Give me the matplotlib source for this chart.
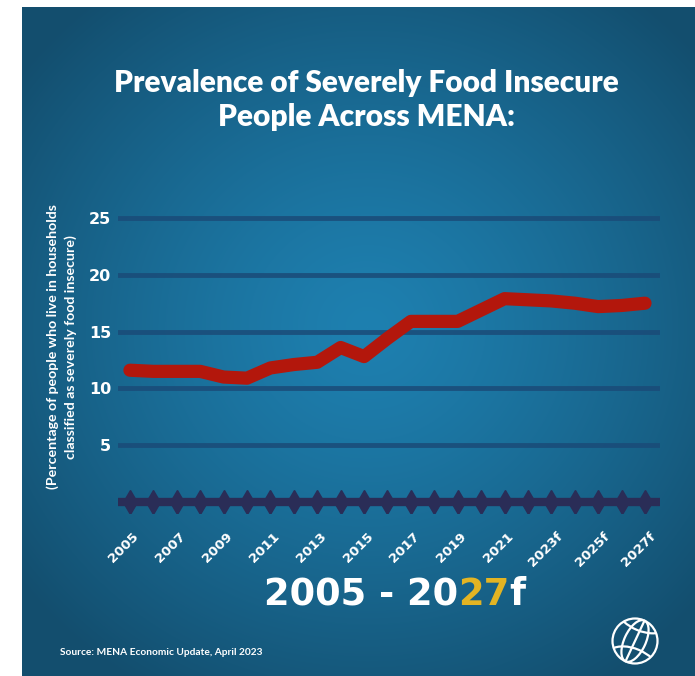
import matplotlib.pyplot as plt
import numpy as np
from matplotlib.transforms import ScaledTranslation
from matplotlib.patches import Circle, Ellipse, Arc

# ---- data ----
years = list(range(2005, 2028))
values = [11.6, 11.5, 11.5, 11.5, 11.0, 10.9, 11.8, 12.1, 12.3, 13.6, 12.8,
          14.4, 15.9, 15.9, 15.9, 16.9, 17.9, 17.8, 17.7, 17.5, 17.2, 17.3, 17.5]
label_years = years[::2]
year_labels = ["2005", "2007", "2009", "2011", "2013", "2015", "2017", "2019",
               "2021", "2023f", "2025f", "2027f"]
y_ticks = [5, 10, 15, 20, 25]

title = "Prevalence of Severely Food Insecure\nPeople Across MENA:"
ylabel = "(Percentage of people who live in households\nclassified as severely food insecure)"
source = "Source: MENA Economic Update, April 2023"

W, H = 695, 676
fig = plt.figure(figsize=(W / 100, H / 100), dpi=100)
fig.patch.set_facecolor("white")

# ---- gradient background panel ----
bg = fig.add_axes([22 / W, 0, 1 - 22 / W, 669 / H])
pw, ph = W - 22, 669
xx, yy = np.meshgrid(np.arange(pw), np.arange(ph))
r = np.sqrt(((xx - 345) / 440.0) ** 2 + ((yy - 320) / 420.0) ** 2)
t = np.clip(r, 0, 1) ** 1.3
center = np.array([0x1e, 0x80, 0xb0]) / 255
edge = np.array([0x13, 0x4e, 0x6e]) / 255
img = center[None, None, :] * (1 - t[..., None]) + edge[None, None, :] * t[..., None]
bg.imshow(img, aspect="auto", interpolation="bilinear")
bg.axis("off")

# ---- main chart ----
px_per_unit = 11.36
bottom_px = 502 + px_per_unit
top_px = 218 - px_per_unit
ax = fig.add_axes([118 / W, 1 - bottom_px / H, (660 - 118) / W, (bottom_px - top_px) / H])
ax.set_facecolor("none")
ax.set_xlim(2004.49, 2027.64)
ax.set_ylim(-1, 26)
for s in ax.spines.values():
    s.set_visible(False)

ax.set_yticks(y_ticks)
ax.set_yticklabels([str(v) for v in y_ticks])
ax.tick_params(axis="y", length=0, pad=5, labelcolor="white", labelsize=11.5)
for lab in ax.get_yticklabels():
    lab.set_fontweight("bold")
ax.yaxis.grid(True, color="#1a4b78", linewidth=3.5, alpha=0.85)
ax.set_axisbelow(True)

# x axis line with stitch markers
ax.axhline(0, color="#2a2d57", linewidth=6, zorder=2)
ax.plot(years, [0] * len(years), linestyle="none", marker="d", markersize=12,
        color="#2a2d57", zorder=2)

ax.set_xticks(label_years)
ax.set_xticklabels(year_labels)
ax.tick_params(axis="x", length=0, pad=12, labelcolor="white", labelsize=9.5)
for lab in ax.get_xticklabels():
    lab.set_rotation(45)
    lab.set_ha("center")
    lab.set_fontweight("bold")
    lab.set_transform(lab.get_transform() + ScaledTranslation(-6 / 100, 0, fig.dpi_scale_trans))

ax.plot(years, values, color="#b3170c", linewidth=9.5, solid_capstyle="round",
        solid_joinstyle="round", zorder=3)

# ---- texts ----
fig.text(366 / W, 1 - 100 / H, title, ha="center", va="center", color="white",
         fontsize=21.5, fontweight="heavy", family="Lato", linespacing=1.22)
fig.text(61.5 / W, 1 - 347 / H, ylabel, ha="center", va="center", rotation=90,
         color="white", fontsize=10.2, fontweight="bold", family="Lato", linespacing=1.45)
fig.text(60 / W, 1 - 655 / H, source, ha="left", va="baseline", color="white",
         fontsize=7.3, fontweight="bold", family="Lato")

# big range text with the "27" in gold
parts = [("2005 - 20", "white"), ("27", "#e3b423"), ("f", "white")]
renderer = fig.canvas.get_renderer()
objs = []
for txt, col in parts:
    objs.append(fig.text(0, 1 - 605 / H, txt, ha="left", va="baseline", color=col,
                         fontsize=26.5, fontweight="bold"))
widths = [o.get_window_extent(renderer).width for o in objs]
x = 395 - sum(widths) / 2
for o, w in zip(objs, widths):
    o.set_x(x / W)
    x += w

# ---- globe logo ----
la = fig.add_axes([(635 - 27) / W, 1 - (641 + 27) / H, 54 / W, 54 / H])
la.set_xlim(-1.2, 1.2)
la.set_ylim(-1.2, 1.2)
la.set_aspect("equal")
la.axis("off")
lw = 1.6
globe = Circle((0, 0), 1.0, fill=False, edgecolor="white", linewidth=lw)
la.add_patch(globe)
inner = [
    Ellipse((0, 0), 0.95, 2.0, angle=-25, fill=False, edgecolor="white", linewidth=lw),
    Arc((0.35, 1.25), 2.6, 1.6, angle=-25, theta1=200, theta2=345, edgecolor="white", linewidth=lw),
    Arc((-0.1, -1.15), 2.6, 1.6, angle=-25, theta1=20, theta2=165, edgecolor="white", linewidth=lw),
]
for p in inner:
    la.add_patch(p)
    p.set_clip_path(globe)
ln, = la.plot([-0.42, 0.42], [-0.9, 0.9], color="white", linewidth=lw)

fig.savefig("out.png", dpi=100)
